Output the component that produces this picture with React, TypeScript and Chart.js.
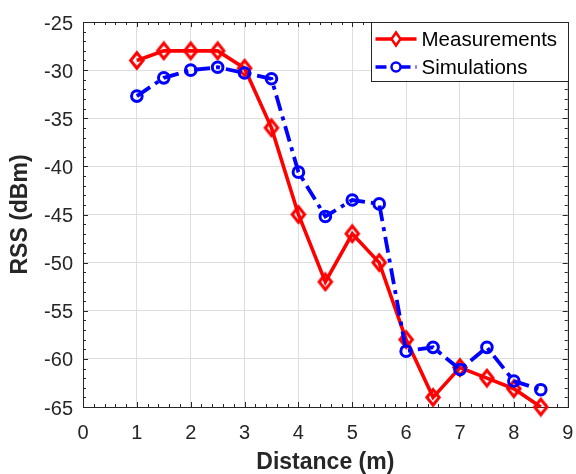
import React, { useEffect, useRef } from "react";
import { Chart, registerables } from "chart.js";

Chart.register(...registerables);

const distances = [1, 1.5, 2, 2.5, 3, 3.5, 4, 4.5, 5, 5.5, 6, 6.5, 7, 7.5, 8, 8.5];
const measurements = [-29, -28, -28, -28, -29.8, -36, -45, -52, -47, -50, -58, -64, -60.9, -62, -63.1, -65];
const simulations = [-32.7, -30.8, -30, -29.7, -30.3, -30.9, -40.6, -45.2, -43.5, -43.9, -59.2, -58.8, -61.1, -58.8, -62.3, -63.2];
const seriesLabels = ["Measurements", "Simulations"];
const xTickValues = [0, 1, 2, 3, 4, 5, 6, 7, 8, 9];
const yTickValues = [-65, -60, -55, -50, -45, -40, -35, -30, -25];
const xMinorStep = 0.2;
const yMinorStep = 1;

const FONT = "'Liberation Sans', Arial, Helvetica, sans-serif";
const AXIS = "#262626";
const GRID = "#dedede";
const RED = "#ff0000";
const BLUE = "#0000ff";

function makeDiamond(hw: number, hh: number, lw: number, color: string) {
  const c = document.createElement("canvas");
  const W = Math.ceil(2 * hw + lw + 2);
  const H = Math.ceil(2 * hh + lw + 2);
  c.width = W;
  c.height = H;
  const g = c.getContext("2d")!;
  const cx = W / 2;
  const cy = H / 2;
  g.strokeStyle = color;
  g.lineWidth = lw;
  g.lineJoin = "miter";
  g.beginPath();
  g.moveTo(cx - hw, cy);
  g.lineTo(cx, cy - hh);
  g.lineTo(cx + hw, cy);
  g.lineTo(cx, cy + hh);
  g.closePath();
  g.stroke();
  return c;
}

const framePlugin = {
  id: "frame",
  beforeDatasetsDraw(chart: any) {
    const { ctx, chartArea, scales } = chart;
    const { left, right, top, bottom } = chartArea;
    const xs = scales.x;
    const ys = scales.y;
    ctx.save();
    ctx.strokeStyle = AXIS;
    ctx.lineWidth = 1;
    ctx.beginPath();
    const major = 5;
    const minor = 3;
    const near = (a: number, arr: number[]) => arr.some((b) => Math.abs(a - b) < 1e-6);
    for (let i = 0; ; i++) {
      const v = xs.min + i * xMinorStep;
      if (v > xs.max + 1e-6) break;
      const px = Math.round(xs.getPixelForValue(v)) + 0.5;
      const len = near(v, xTickValues) ? major : minor;
      ctx.moveTo(px, bottom);
      ctx.lineTo(px, bottom - len);
      ctx.moveTo(px, top);
      ctx.lineTo(px, top + len);
    }
    for (let i = 0; ; i++) {
      const v = ys.min + i * yMinorStep;
      if (v > ys.max + 1e-6) break;
      const py = Math.round(ys.getPixelForValue(v)) + 0.5;
      const len = near(v, yTickValues) ? major : minor;
      ctx.moveTo(left, py);
      ctx.lineTo(left + len, py);
      ctx.moveTo(right, py);
      ctx.lineTo(right - len, py);
    }
    ctx.stroke();
    ctx.strokeRect(Math.round(left) + 0.5, Math.round(top) + 0.5, Math.round(right - left), Math.round(bottom - top));
    ctx.restore();
  },
};

const legendPlugin = {
  id: "boxLegend",
  afterDraw(chart: any) {
    const { ctx, chartArea } = chart;
    const w = 197;
    const h = 59;
    const bx = Math.round(chartArea.right - w) + 0.5;
    const by = Math.round(chartArea.top) + 0.5;
    ctx.save();
    ctx.fillStyle = "#ffffff";
    ctx.fillRect(bx, by, w, h);
    ctx.strokeStyle = AXIS;
    ctx.lineWidth = 1;
    ctx.strokeRect(bx, by, w, h);
    chart.data.datasets.forEach((ds: any, i: number) => {
      const y = by + 16.5 + i * 28;
      const x0 = bx + 4;
      const x1 = bx + 45;
      const xm = (x0 + x1) / 2;
      ctx.strokeStyle = ds.borderColor;
      ctx.lineWidth = 3.5;
      ctx.setLineDash(i === 1 ? [11, 5, 3, 5] : []);
      ctx.beginPath();
      ctx.moveTo(x0, y);
      ctx.lineTo(x1, y);
      ctx.stroke();
      ctx.setLineDash([]);
      ctx.lineWidth = 2.5;
      ctx.fillStyle = "#ffffff";
      ctx.beginPath();
      if (i === 0) {
        ctx.moveTo(xm - 4.5, y);
        ctx.lineTo(xm, y - 6.5);
        ctx.lineTo(xm + 4.5, y);
        ctx.lineTo(xm, y + 6.5);
        ctx.closePath();
      } else {
        ctx.arc(xm, y, 4.5, 0, Math.PI * 2);
      }
      ctx.fill();
      ctx.stroke();
      ctx.fillStyle = "#000000";
      ctx.font = `20.5px ${FONT}`;
      ctx.textAlign = "left";
      ctx.textBaseline = "middle";
      ctx.fillText(ds.label, bx + 50, y + 1);
    });
    ctx.restore();
  },
};

export default function App() {
  const ref = useRef<HTMLCanvasElement | null>(null);
  useEffect(() => {
    document.body.style.margin = "0";
    const canvas = ref.current;
    if (!canvas) return;
    const diamond = makeDiamond(6.2, 7.8, 3, RED);
    const chart = new Chart(canvas, {
      type: "line",
      data: {
        datasets: [
          {
            label: seriesLabels[0],
            data: distances.map((x, i) => ({ x, y: measurements[i] })),
            borderColor: RED,
            backgroundColor: "rgba(0,0,0,0)",
            borderWidth: 3.6,
            pointStyle: diamond,
            pointRadius: 3,
            tension: 0,
            clip: false,
            order: 2,
          } as any,
          {
            label: seriesLabels[1],
            data: distances.map((x, i) => ({ x, y: simulations[i] })),
            borderColor: BLUE,
            backgroundColor: "rgba(0,0,0,0)",
            borderWidth: 3.8,
            borderDash: [16, 6, 4, 6],
            pointStyle: "circle",
            pointRadius: 5.3,
            pointBorderWidth: 3,
            pointBorderColor: BLUE,
            pointBackgroundColor: "rgba(0,0,0,0)",
            tension: 0,
            clip: false,
            order: 1,
          } as any,
        ],
      },
      options: {
        animation: false,
        responsive: false,
        events: [],
        layout: { padding: { top: 22, right: 7, left: 0, bottom: 0 } },
        plugins: {
          legend: { display: false },
          tooltip: { enabled: false },
        },
        scales: {
          x: {
            type: "linear",
            min: 0,
            max: 9,
            afterBuildTicks: (s: any) => {
              s.ticks = xTickValues.map((v) => ({ value: v }));
            },
            afterFit: (s: any) => {
              s.height = 67;
              s.paddingLeft = 0;
              s.paddingRight = 0;
            },
            grid: { color: GRID, lineWidth: 1, drawTicks: false },
            border: { display: false },
            ticks: {
              padding: 14,
              color: AXIS,
              font: { family: FONT, size: 20, lineHeight: 1.2 },
              maxRotation: 0,
            },
            title: {
              display: true,
              text: "Distance (m)",
              color: AXIS,
              font: { family: FONT, size: 23, weight: "bold", lineHeight: 1 },
              padding: { top: 0, bottom: 0 },
            },
          },
          y: {
            type: "linear",
            min: -65,
            max: -25,
            afterBuildTicks: (s: any) => {
              s.ticks = yTickValues.map((v) => ({ value: v }));
            },
            afterFit: (s: any) => {
              s.width = 83;
              s.paddingTop = 0;
              s.paddingBottom = 0;
            },
            grid: { color: GRID, lineWidth: 1, drawTicks: false },
            border: { display: false },
            ticks: {
              padding: 10,
              labelOffset: 2,
              color: AXIS,
              font: { family: FONT, size: 20, lineHeight: 1.2 },
            },
            title: {
              display: true,
              text: "RSS (dBm)",
              color: AXIS,
              font: { family: FONT, size: 23, weight: "bold", lineHeight: 1 },
              padding: { top: 9, bottom: 0 },
            },
          },
        },
      } as any,
      plugins: [framePlugin, legendPlugin],
    });
    return () => chart.destroy();
  }, []);
  return (
    <div style={{ width: 576, height: 474 }}>
      <canvas ref={ref} width={576} height={474} style={{ display: "block", width: 576, height: 474 }} />
    </div>
  );
}
